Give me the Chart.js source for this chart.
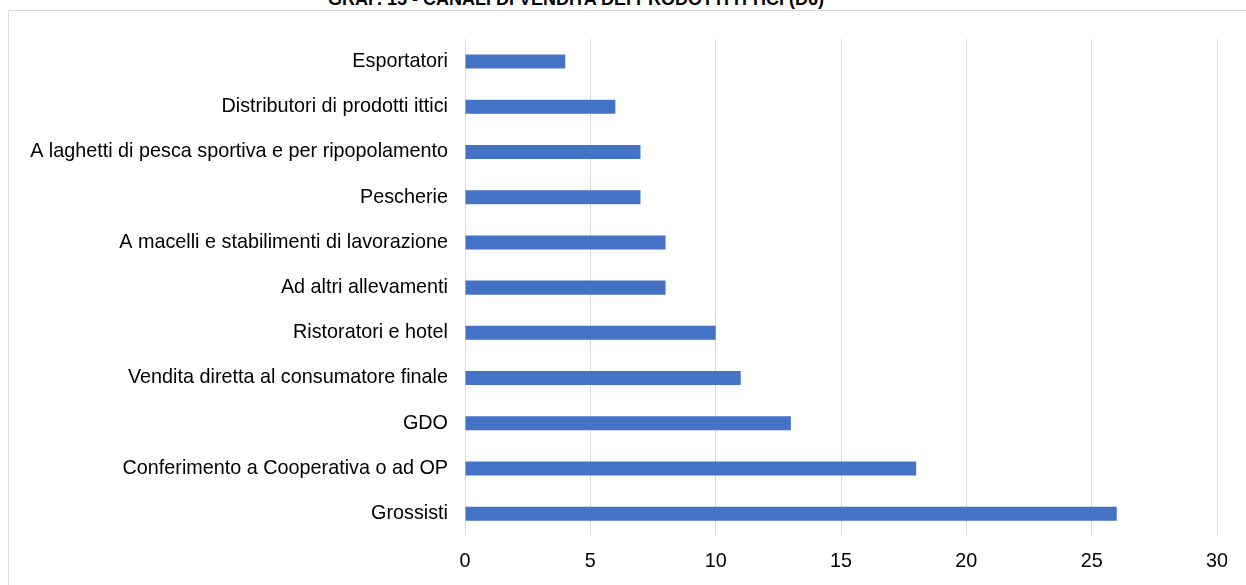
<!DOCTYPE html>
<html>
<head>
<meta charset="utf-8">
<script src="https://cdn.jsdelivr.net/npm/chart.js@4"></script>
<style>
  html, body { margin: 0; padding: 0; background: #fff; overflow: hidden; }
  body { width: 1246px; height: 585px; position: relative; font-family: "Liberation Sans", Arial, sans-serif; }
  #title { position: absolute; left: 0; width: 1152px; top: -11px; text-align: center; font-weight: bold; font-size: 18px; color: #000; white-space: nowrap; }
  #box { position: absolute; left: 8px; top: 10px; width: 1250px; height: 590px; border: 1px solid #d9d9d9; }
  #wrap { position: absolute; left: 0; top: 0; width: 1237px; height: 575px; }
</style>
</head>
<body>
<div id="title">GRAF. 15 - CANALI DI VENDITA DEI PRODOTTI ITTICI (D6)</div>
<div id="box"><div id="wrap"><canvas id="chart"></canvas></div></div>
<script>
// canali di vendita, dall'alto verso il basso
const categories = [
    "Esportatori",
    "Distributori di prodotti ittici",
    "A laghetti di pesca sportiva e per ripopolamento",
    "Pescherie",
    "A macelli e stabilimenti di lavorazione",
    "Ad altri allevamenti",
    "Ristoratori e hotel",
    "Vendita diretta al consumatore finale",
    "GDO",
    "Conferimento a Cooperativa o ad OP",
    "Grossisti"
];
const values = [4, 6, 7, 7, 8, 8, 10, 11, 13, 18, 26];
const xTicks = [0, 5, 10, 15, 20, 25, 30];

const blue = "#4472c4";
const grid = "#d9d9d9";
const font = { family: "Liberation Sans", size: 19.8 };

const chart = new Chart(document.getElementById("chart"), {
    type: "bar",
    data: {
        labels: categories,
        datasets: [{
            data: values,
            backgroundColor: blue,
            borderWidth: 0,
            categoryPercentage: 1,
            barPercentage: 0.31
        }]
    },
    options: {
        indexAxis: "y",
        responsive: true,
        maintainAspectRatio: false,
        animation: false,
        layout: { padding: { top: 28, right: 29, bottom: 0, left: 0 } },
        plugins: { legend: { display: false }, tooltip: { enabled: false } },
        scales: {
            x: {
                min: xTicks[0],
                max: xTicks[xTicks.length - 1],
                afterBuildTicks: (axis) => { axis.ticks = xTicks.map(v => ({ value: v })); },
                grid: { color: grid, lineWidth: 1, drawTicks: false },
                border: { display: false },
                ticks: { color: "#000", padding: 13, font: font }
            },
            y: {
                afterFit: (axis) => { axis.width = 456; },
                grid: { display: false },
                border: { display: false },
                ticks: { color: "#000", padding: 9, font: font }
            }
        }
    }
});
</script>
</body>
</html>
